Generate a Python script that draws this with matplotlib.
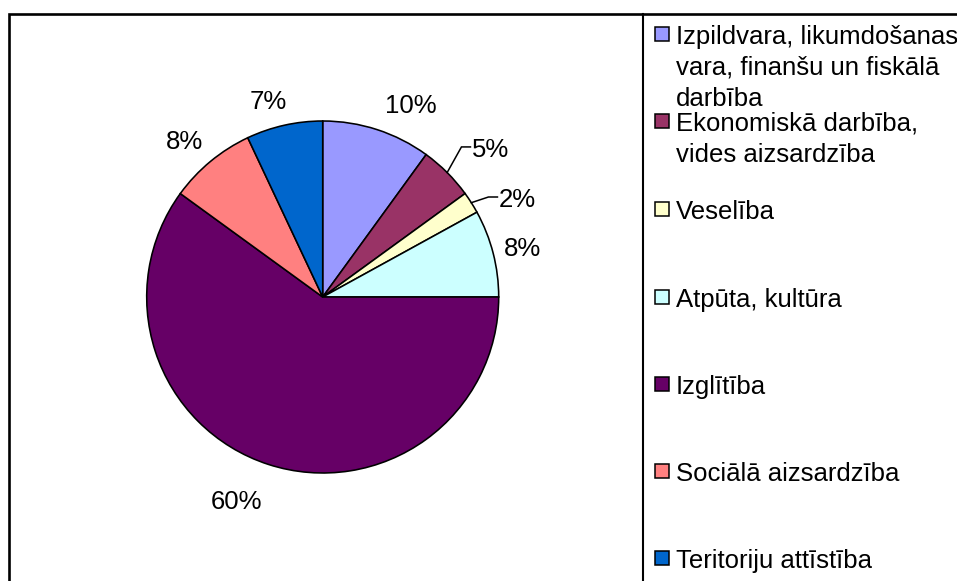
import numpy as np
import matplotlib
matplotlib.use("Agg")
import matplotlib.pyplot as plt
from matplotlib.patches import Rectangle

# ---- data ----
categories = ["Izpildvara, likumdošanas\nvara, finanšu un fiskālā\ndarbība",
              "Ekonomiskā darbība,\nvides aizsardzība",
              "Veselība",
              "Atpūta, kultūra",
              "Izglītība",
              "Sociālā aizsardzība",
              "Teritoriju attīstība"]
values = [10, 5, 2, 8, 60, 8, 7]
pct_labels = ["10%", "5%", "2%", "8%", "60%", "8%", "7%"]
colors = ["#9999FF", "#993366", "#FFFFCC", "#CCFFFF", "#660066", "#FF8080", "#0066CC"]

# ---- layout (pixels / relative to pie radius) ----
label_xy = [(0.502, 1.097), (0.951, 0.847), (1.104, 0.5625), (1.138, 0.284),
            (-0.487, -1.153), (-0.788, 0.892), (-0.311, 1.119)]
leader = [False, True, True, False, False, False, False]
legend_y = [35, 122, 210, 298, 385, 472, 559]

FONT = "Liberation Sans"
FS = 18.5
W, H = 957, 581
fig = plt.figure(figsize=(W / 100, H / 100), dpi=100)
ax = fig.add_axes([0, 0, 1, 1])
cx, cy, R = 322.7, H - 297, 176

wedges, _ = ax.pie(values, colors=colors, startangle=90, counterclock=False,
                   center=(cx, cy), radius=R,
                   wedgeprops=dict(edgecolor="black", linewidth=1.15))
ax.set_xlim(0, W)
ax.set_ylim(0, H)
ax.set_aspect("equal")
ax.axis("off")

texts = []
for w, lab, (rx, ry) in zip(wedges, pct_labels, label_xy):
    tx, ty = cx + rx * R, cy + ry * R
    t = ax.text(tx, ty - 9, lab, ha="center", va="baseline",
                fontsize=FS, family=FONT, color="black")
    texts.append((t, tx, ty))

fig.canvas.draw()
for w, (t, tx, ty), ld in zip(wedges, texts, leader):
    if not ld:
        continue
    th = np.deg2rad((w.theta1 + w.theta2) / 2)
    sx, sy = cx + R * np.cos(th), cy + R * np.sin(th)
    bb = t.get_window_extent()
    ex = bb.x0 - 1
    bx = ex - 9
    ax.plot([sx, bx, ex], [sy, ty + 1, ty + 1], color="black", lw=1.1,
            solid_joinstyle="miter")

# frame
ax.add_patch(Rectangle((9, -20), W + 20, H - 14.3 + 20, fill=False,
                       edgecolor="black", lw=1.9, clip_on=False))
ax.plot([643, 643], [-5, H - 14.3], color="black", lw=1.5)

# legend
for cat, col, yc in zip(categories, colors, legend_y):
    ax.add_patch(Rectangle((655, H - yc + 1 - 7), 14, 14, facecolor=col,
                           edgecolor="black", lw=1.1))
    for i, line in enumerate(cat.split("\n")):
        ax.text(676, H - (yc + i * 30.8) - 9, line, ha="left", va="baseline",
                fontsize=FS, family=FONT, color="black")

fig.savefig("out.png", dpi=100)
